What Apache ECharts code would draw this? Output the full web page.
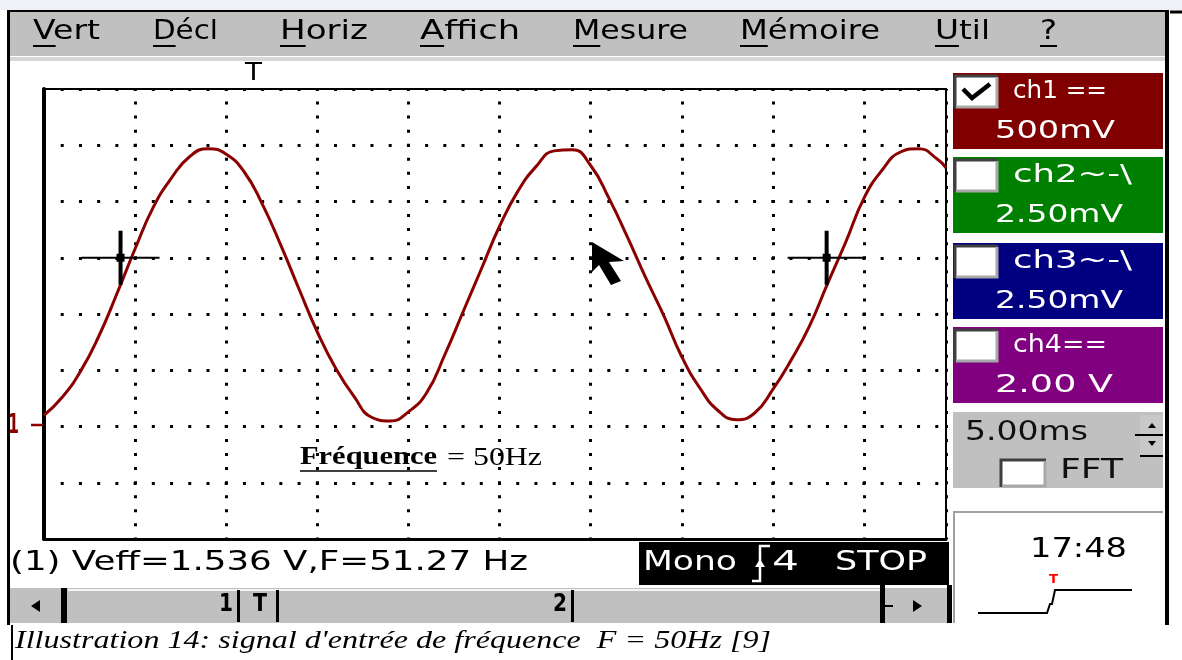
<!DOCTYPE html>
<html>
<head>
<meta charset="utf-8">
<title>Signal d'entrée 50Hz</title>
<script src="https://cdn.jsdelivr.net/npm/echarts@6.0.0/dist/echarts.min.js"></script>
<style>
html, body { margin: 0; padding: 0; background: #fff; }
#scope { width: 1182px; height: 660px; }
</style>
</head>
<body>
<div id="scope"></div>
<script>
// values (ch1, 500mV/div, 5ms/div)
const timeMs = [0, 1, 2, 3, 4, 5, 6, 7, 8, 9, 10, 11, 12, 13, 14, 15, 16, 17, 18, 19,
	20, 21, 22, 23, 24, 25, 26, 27, 28, 29, 30, 31, 32, 33, 34, 35, 36, 37, 38, 39,
	40, 41, 42, 43, 44, 45, 46, 47, 48, 49, 49.5];
const ch1Volts = [0.10, 0.26, 0.49, 0.80, 1.18, 1.58, 1.95, 2.21, 2.40, 2.47,
	2.42, 2.26, 1.97, 1.61, 1.22, 0.84, 0.52, 0.27, 0.08, 0.05,
	0.13, 0.30, 0.64, 1.02, 1.40, 1.78, 2.09, 2.31, 2.45, 2.46,
	2.32, 2.03, 1.69, 1.33, 0.99, 0.62, 0.34, 0.14, 0.06, 0.12,
	0.33, 0.59, 0.89, 1.27, 1.64, 2.03, 2.28, 2.44, 2.47, 2.38, 2.30];
const cursorPositions = [[4.2, 1.5], [42.95, 1.5]];

const menuItems = ['Vert', 'Décl', 'Horiz', 'Affich', 'Mesure', 'Mémoire', 'Util', '?'];
const channelNames = ['ch1 ==', 'ch2~-\\', 'ch3~-\\', 'ch4=='];
const channelScales = ['500mV', '2.50mV', '2.50mV', '2.00 V'];
const timebase = '5.00ms';
const measurement = '(1) Veff=1.536 V,F=51.27 Hz';
const acqStatus = ['Mono', '4', 'STOP'];
const clockTime = '17:48';
const scrollMarks = ['1', 'T', '2'];
const note = ['Fréquence', '= 50Hz'];
const caption = "Illustration 14: signal d'entrée de fréquence  F = 50Hz [9]";

// screen layout
const menuX = [33, 153, 280, 420, 573, 740, 935, 1040];
const menuW = [67, 65, 88, 100, 115, 140, 55, 17];
const channelColors = ['#800000', '#008000', '#000080', '#800080'];
const channelTop = [73, 157, 243, 327];
const nameW = [94, 119, 119, 94];
const scaleW = [120, 128, 128, 118];
const scrollX = [219, 253, 553];
const scrollBarX = [237, 276, 571];

const UI_FONT = '"DejaVu Sans", sans-serif';
const SERIF = '"Liberation Serif", "Times New Roman", Tinos, serif';
const measureCtx = document.createElement('canvas').getContext('2d');

function fontOf(size, family, weight, italic) {
	return (italic ? 'italic ' : '') + (weight || 'normal') + ' ' + size + 'px ' + (family || UI_FONT);
}
function textWidth(str, font) {
	measureCtx.font = font;
	return measureCtx.measureText(str).width;
}
// text squeezed/stretched to the width it has on the screen
function fitText(str, x, y, width, size, color, family, weight, italic) {
	let font = fontOf(size, family, weight, italic);
	let natural = textWidth(str, font);
	return {
		type: 'text', x: x, y: y, scaleX: width ? width / natural : 1, z: 20,
		style: {text: str, x: 0, y: 0, font: font, fill: color || '#000', align: 'left', verticalAlign: 'middle'}
	};
}
function rect(x, y, w, h, fill, z) {
	return {type: 'rect', z: z || 5, shape: {x: x, y: y, width: w, height: h}, style: {fill: fill}};
}
function seg(x1, y1, x2, y2, color, width, z) {
	return {type: 'line', z: z || 15, shape: {x1: x1, y1: y1, x2: x2, y2: y2}, style: {stroke: color, lineWidth: width}};
}
function poly(points, color, width, z) {
	return {type: 'polyline', z: z || 15, shape: {points: points}, style: {stroke: color, lineWidth: width, fill: null}};
}
function tri(points, color, z) {
	return {type: 'polygon', z: z || 15, shape: {points: points}, style: {fill: color}};
}
function checkbox(x, y, w, h) {
	return [
		rect(x, y, w, h, '#fff', 12),
		poly([[x + 1, y + h], [x + 1, y + 1], [x + w, y + 1]], '#404040', 3, 13),
		poly([[x + w - 1, y + 2], [x + w - 1, y + h - 1], [x + 2, y + h - 1]], '#a8a8a8', 3, 13)
	];
}

let gfx = [];

// window frame and menu bar
gfx.push(rect(0, 0, 1182, 10, '#eef2f6', 1));
gfx.push(rect(10, 12, 1156, 44, '#c0c0c0'));
gfx.push(rect(10, 57, 1156, 4, '#d6d6d6'));
gfx.push(seg(7, 11, 1168, 11, '#000', 2));
gfx.push(seg(8.5, 10, 8.5, 625, '#000', 3));
gfx.push(seg(1167, 10, 1167, 625, '#000', 4));
gfx.push(seg(1170, 12, 1182, 12, '#000', 3));

menuItems.forEach(function (item, i) {
	let t = fitText(item, menuX[i], 32, menuW[i], 27);
	gfx.push(t);
	let first = textWidth(item.charAt(0), t.style.font) * t.scaleX;
	gfx.push(seg(menuX[i], 46, menuX[i] + first, 46, '#000', 2));
});

// trigger mark and ch1 ground mark
gfx.push(fitText('T', 245, 74, 17, 24));
gfx.push(fitText('1', 8, 426, 11, 27, '#8b0000', UI_FONT, 'bold'));
gfx.push(seg(31, 425, 43, 425, '#8b0000', 2.5));

// mouse pointer
gfx.push(tri([[592, 242], [592, 272], [599, 265], [611, 285], [621, 281], [609, 262], [624, 261]], '#000', 100));

// annotation on the plot
gfx.push(fitText(note[0], 300, 458, 137, 25, '#000', SERIF, 'bold'));
gfx.push(seg(300, 471, 437, 471, '#000', 1.5, 20));
gfx.push(fitText(note[1], 447, 458, 95, 25, '#000', SERIF));

// measurement line and acquisition status
gfx.push(fitText(measurement, 10, 563, 518, 27));
gfx.push(rect(639, 542, 310, 43, '#000', 6));
gfx.push(fitText(acqStatus[0], 643, 563, 94, 27, '#fff'));
gfx.push(poly([[752, 581], [760, 581], [760, 546], [770, 546]], '#fff', 2.5, 21));
gfx.push(tri([[755, 567], [765, 567], [760, 559]], '#fff', 21));
gfx.push(fitText(acqStatus[1], 772, 563, 27, 27, '#fff'));
gfx.push(fitText(acqStatus[2], 835, 563, 92, 27, '#fff'));

// scroll bar
gfx.push(rect(10, 588, 940, 35, '#c0c0c0'));
gfx.push(seg(68, 590, 880, 590, '#f4f4f4', 2, 8));
gfx.push(tri([[31, 606], [40, 600], [40, 612]], '#000'));
gfx.push(rect(61, 588, 6, 35, '#000', 9));
scrollMarks.forEach(function (m, i) {
	gfx.push(fitText(m, scrollX[i], 605, 14, 24, '#000', UI_FONT, 'bold'));
	gfx.push(rect(scrollBarX[i], 590, 3, 32, '#000', 9));
});
gfx.push(rect(880, 582, 5, 41, '#000', 9));
gfx.push(seg(885, 606, 893, 606, '#000', 2));
gfx.push(tri([[913, 600], [913, 612], [922, 606]], '#000'));
gfx.push(rect(947, 585, 5, 38, '#000', 9));

// channel panel
channelNames.forEach(function (name, i) {
	let top = channelTop[i];
	gfx.push(rect(953, top, 210, 76, channelColors[i]));
	checkbox(954, top + 2, 44, 33).forEach(function (el) { gfx.push(el); });
	gfx.push(fitText(name, 1013, top + 18.5, nameW[i], 25, '#fff'));
	gfx.push(fitText(channelScales[i], 995, top + 58, scaleW[i], 25, '#fff'));
});
gfx.push(poly([[963, 89], [972, 98], [990, 84]], '#000', 4.5, 14));

// time base panel
gfx.push(rect(953, 412, 210, 76, '#c0c0c0'));
gfx.push(fitText(timebase, 965, 433, 123, 27, '#101010'));
gfx.push(rect(1140, 415, 23, 19, '#c8c8c8', 7));
gfx.push(rect(1140, 436, 23, 19, '#c8c8c8', 7));
gfx.push(seg(1135, 435, 1163, 435, '#000', 2));
gfx.push(seg(1140, 456, 1163, 456, '#000', 2));
gfx.push(tri([[1148, 428], [1156, 428], [1152, 423]], '#000'));
gfx.push(tri([[1148, 441], [1156, 441], [1152, 446]], '#000'));
checkbox(1000, 459, 46, 28).forEach(function (el) { gfx.push(el); });
gfx.push(fitText('FFT', 1060, 471, 63, 27, '#101010'));

// clock panel
gfx.push(rect(953, 511, 210, 112, '#fff'));
gfx.push(poly([[954, 623], [954, 512], [1163, 512]], '#a0a0a0', 2, 9));
gfx.push(fitText(clockTime, 1030, 550, 97, 27));
gfx.push(fitText('T', 1049, 580, 9, 13, '#ff0000', UI_FONT, 'bold'));
gfx.push(poly([[978, 613], [1047, 613], [1050, 604], [1052, 604], [1055, 590], [1132, 590]], '#000', 2));

// caption under the screenshot
gfx.push(seg(12, 625, 12, 660, '#000', 2));
gfx.push(fitText(caption, 15, 641, 756, 26, '#000', SERIF, 'normal', true));

const crossSymbol = 'path://M0 26h78v2H0z M37 0h4v54h-4z M35 23h8v8h-8z';

let option = {
	animation: false,
	backgroundColor: '#fff',
	grid: {
		left: 44, top: 89, width: 902, height: 450,
		show: true, borderColor: '#000', borderWidth: 2, backgroundColor: '#fff'
	},
	xAxis: {
		type: 'value', min: 0, max: 49.5, interval: 5,
		axisLabel: {show: false}, axisTick: {show: false},
		axisLine: {show: true, onZero: false, lineStyle: {color: '#000', width: 3}},
		splitLine: {show: true, lineStyle: {color: '#000', width: 3, type: [3, 11.06], dashOffset: 1.5}}
	},
	yAxis: {
		type: 'value', min: -1, max: 3, interval: 0.5,
		axisLabel: {show: false}, axisTick: {show: false},
		axisLine: {show: true, onZero: false, lineStyle: {color: '#000', width: 4}},
		splitLine: {show: true, lineStyle: {color: '#000', width: 3, type: [3, 15.22], dashOffset: 1.5}}
	},
	series: [
		{
			name: 'ch1', type: 'line', smooth: true, showSymbol: false, z: 5,
			data: timeMs.map(function (t, i) { return [t, ch1Volts[i]]; }),
			lineStyle: {color: '#8b0000', width: 3}
		},
		{
			name: 'curseurs', type: 'scatter', z: 6,
			symbol: crossSymbol, symbolSize: [78, 54],
			itemStyle: {color: '#000', opacity: 1},
			data: cursorPositions
		}
	],
	graphic: {elements: gfx}
};

let myChart = echarts.init(document.getElementById('scope'), null, {renderer: 'canvas'});
myChart.setOption(option);
</script>
</body>
</html>
